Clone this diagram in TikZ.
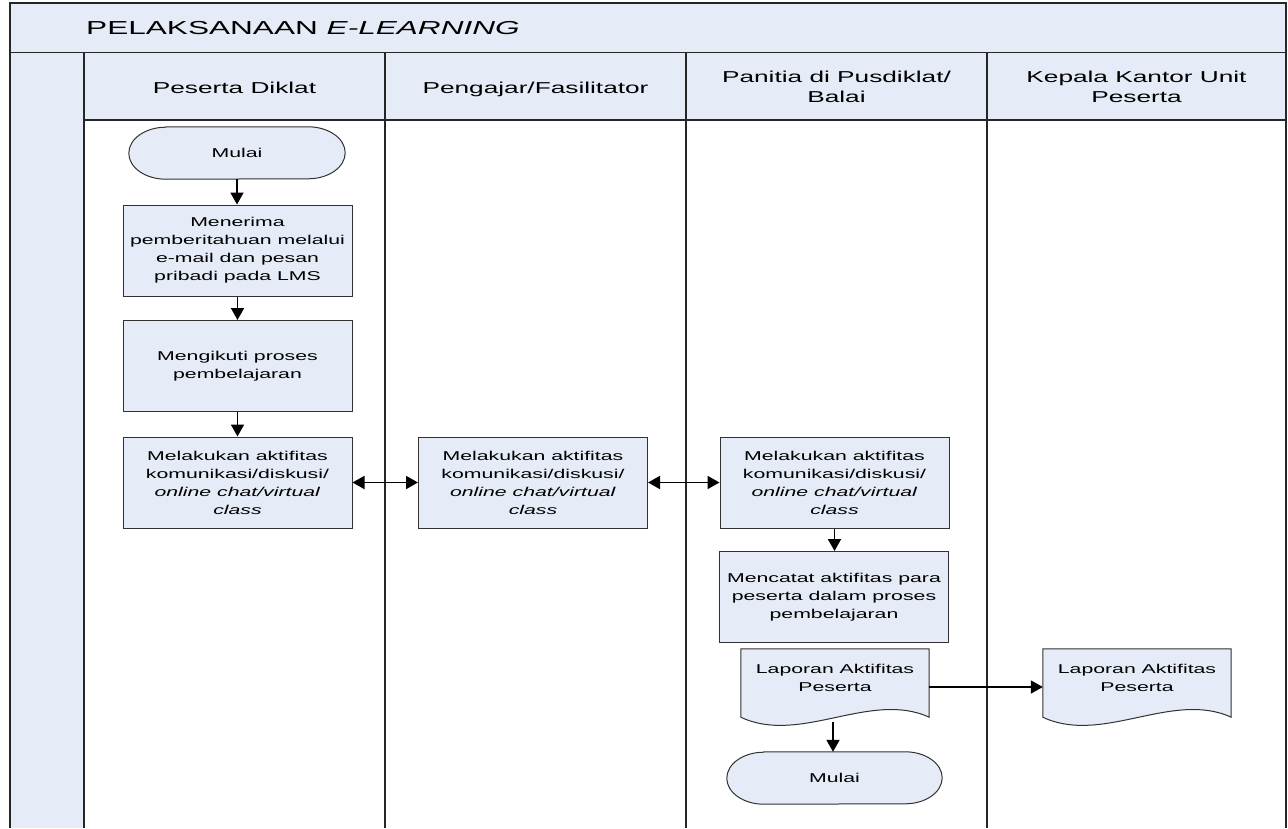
\documentclass[tikz,border=0pt]{standalone}
\usepackage{fontspec}
\setmainfont{Liberation Sans}[FakeStretch=1.66]
\newfontfamily\headfam{Liberation Sans}[FakeStretch=1.66]
\newfontfamily\titlefam{Liberation Sans}[FakeStretch=1.68]
\usetikzlibrary{arrows.meta,calc}
\pgfdeclarelayer{lanes}
\pgfdeclarelayer{shapes}
\pgfsetlayers{lanes,shapes,main}
\definecolor{fillblue}{RGB}{230,236,247}
\definecolor{edgegray}{RGB}{50,50,50}
\newcommand\myBodyFont{\fontsize{12.8}{18}\selectfont}
\newcommand\myHeadFont{\headfam\fontsize{15.8}{20}\selectfont}
\newcommand\myTitleFont{\titlefam\fontsize{18.8}{21}\selectfont}
\tikzset{
 lane/.style={draw=black!85,line width=1.6pt},
 box/.style={draw=edgegray,line width=1pt,fill=fillblue,minimum width=229pt,minimum height=91pt,inner sep=0pt,align=center,font=\myBodyFont},
 textonly/.style={inner sep=0pt,align=center,font=\myBodyFont},
 head/.style={inner sep=0pt,align=center,font=\myHeadFont},
 flow/.style={line width=1.8pt,-{Triangle[length=12pt,width=13pt]}},
 flowboth/.style={line width=1.8pt,{Triangle[length=12pt,width=13pt]}-{Triangle[length=12pt,width=13pt]}},
 shapeline/.style={draw=edgegray,line width=1pt,fill=fillblue},
}
\newcommand\termshape[1]{%
 \begin{pgfonlayer}{shapes}
 \draw[shapeline] ($(#1.north west)+(37pt,0)$) -- ($(#1.north east)+(-37pt,0)$)
   arc[start angle=90,end angle=-90,x radius=37pt,y radius=26pt]
   -- ($(#1.south west)+(37pt,0)$)
   arc[start angle=270,end angle=90,x radius=37pt,y radius=26pt] -- cycle;
 \end{pgfonlayer}}
\newcommand\docshape[1]{%
 \begin{pgfonlayer}{shapes}
 \draw[shapeline] (#1.south west) -- (#1.north west) -- (#1.north east) -- (#1.south east)
   .. controls ($(#1.south east)+(-59pt,27pt)$) and ($(#1.south east)+(-129pt,-28pt)$) .. (#1.south west) -- cycle;
 \end{pgfonlayer}}
\begin{document}
\begin{tikzpicture}[x=1pt,y=1pt]
\useasboundingbox (0,0) rectangle (1288,-828);
% ---- swimlane frame ----
\begin{pgfonlayer}{lanes}
 \fill[white] (0,0) rectangle (1288,-828);
 \draw[lane,fill=fillblue] (10,-3) rectangle (1286,-53);
 \fill[fillblue] (10,-53) rectangle (84,-828);
 \fill[fillblue] (84,-53) rectangle (1286,-120);
 \draw[lane] (10,-53) -- (10,-828);
 \draw[lane] (84,-53) -- (84,-828);
 \draw[lane] (84,-120) -- (1286,-120);
 \draw[lane] (385,-53) -- (385,-828);
 \draw[lane] (686,-53) -- (686,-828);
 \draw[lane] (987,-53) -- (987,-828);
 \draw[lane] (1286,-53) -- (1286,-828);
\end{pgfonlayer}
% ---- titles ----
\node[anchor=base west,inner sep=0pt,font=\myTitleFont] (title) at (86,-34) {PELAKSANAAN \textit{E-LEARNING}};
\node[head,anchor=base] (h1) at (234.5,-93) {Peserta Diklat};
\node[head,anchor=base] (h2) at (535.5,-93) {Pengajar/Fasilitator};
\node[head] (h3) at (836.5,-86.5) {Panitia di Pusdiklat/\\Balai};
\node[head] (h4) at (1136.5,-86.5) {Kepala Kantor Unit\\Peserta};
% ---- nodes ----
\node[textonly,minimum width=216pt,minimum height=52pt] (start) at (237,-153) {Mulai};
\termshape{start}
\node[box] (b1) at (237.5,-250.5) {Menerima\\pemberitahuan melalui\\e-mail dan pesan\\pribadi pada LMS};
\node[box] (b2) at (237.5,-366) {Mengikuti proses\\pembelajaran};
\node[box] (b3) at (237.5,-482.5) {Melakukan aktifitas\\komunikasi/diskusi/\\\textit{online chat/virtual}\\\textit{class}};
\node[box] (b4) at (533,-482.5) {Melakukan aktifitas\\komunikasi/diskusi/\\\textit{online chat/virtual}\\\textit{class}};
\node[box] (b5) at (834.5,-482.5) {Melakukan aktifitas\\komunikasi/diskusi/\\\textit{online chat/virtual}\\\textit{class}};
\node[box] (b6) at (834,-597) {Mencatat aktifitas para\\peserta dalam proses\\pembelajaran};
\node[inner sep=0pt,minimum width=188pt,minimum height=68pt] (doc1) at (835,-683) {};
\docshape{doc1}
\node[textonly] (doc1t) at (835,-678) {Laporan Aktifitas\\Peserta};
\node[inner sep=0pt,minimum width=188pt,minimum height=68pt] (doc2) at (1137,-683) {};
\docshape{doc2}
\node[textonly] (doc2t) at (1137,-678) {Laporan Aktifitas\\Peserta};
\node[textonly,minimum width=215pt,minimum height=52pt] (stop) at (834.5,-778) {Mulai};
\termshape{stop}
% ---- connectors ----
\draw[flow] (start.south) -- (start.south |- b1.north);
\draw[flow] (b1.south) -- (b2.north);
\draw[flow] (b2.south) -- (b3.north);
\draw[flowboth] (b3.east) -- (b4.west);
\draw[flowboth] (b4.east) -- (b5.west);
\draw[flow] (b5.south) -- (b5.south |- b6.north);
\coordinate (d1out) at ($(doc1.east)+(0,-4pt)$);
\draw[flow] (d1out) -- (d1out -| doc2.west);
\coordinate (d1bot) at ($(doc1.south)+(-2pt,-5pt)$);
\draw[flow] (d1bot) -- (d1bot |- stop.north);
\end{tikzpicture}
\end{document}
